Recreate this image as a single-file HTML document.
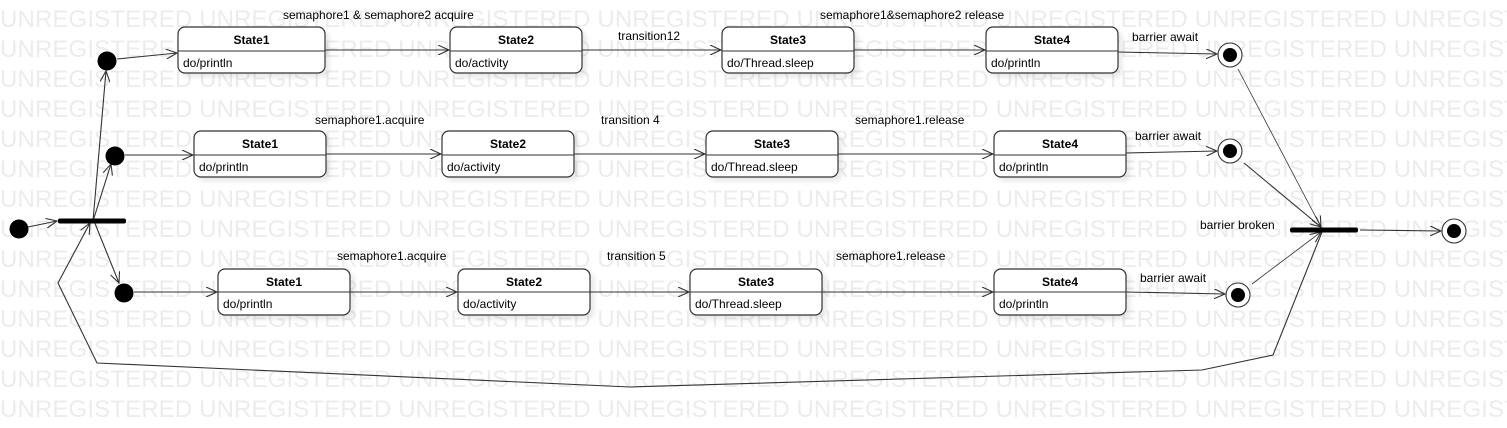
<!DOCTYPE html>
<html><head><meta charset="utf-8"><style>
html,body{margin:0;padding:0;background:#fff;}
svg{display:block;}
.wm{font-family:"Liberation Sans",sans-serif;font-size:24px;fill:#ececec;}
.t{font-family:"Liberation Sans",sans-serif;font-size:12px;fill:#000;}
.b{font-family:"Liberation Sans",sans-serif;font-size:12px;font-weight:bold;fill:#000;}
.st{fill:#fff;stroke:#333;stroke-width:1.2;}
.ln{stroke:#333;stroke-width:1.1;fill:none;}
</style></head><body>
<svg width="1507" height="428" viewBox="0 0 1507 428" xmlns="http://www.w3.org/2000/svg">
<defs>
<marker id="a" markerWidth="12" markerHeight="10" refX="11" refY="5" orient="auto" markerUnits="userSpaceOnUse">
<path d="M0,0 L11,5 L0,10" fill="none" stroke="#333" stroke-width="1.1"/></marker>
<filter id="sh" x="-10%" y="-10%" width="130%" height="140%"><feDropShadow dx="4" dy="4" stdDeviation="2" flood-color="#000" flood-opacity="0.08"/></filter>
</defs>
<g class="wm">
<text x="0" y="27" textLength="1586" lengthAdjust="spacing">UNREGISTERED UNREGISTERED UNREGISTERED UNREGISTERED UNREGISTERED UNREGISTERED UNREGISTERED UNREGISTERED</text>
<text x="0" y="57" textLength="1586" lengthAdjust="spacing">UNREGISTERED UNREGISTERED UNREGISTERED UNREGISTERED UNREGISTERED UNREGISTERED UNREGISTERED UNREGISTERED</text>
<text x="0" y="87" textLength="1586" lengthAdjust="spacing">UNREGISTERED UNREGISTERED UNREGISTERED UNREGISTERED UNREGISTERED UNREGISTERED UNREGISTERED UNREGISTERED</text>
<text x="0" y="117" textLength="1586" lengthAdjust="spacing">UNREGISTERED UNREGISTERED UNREGISTERED UNREGISTERED UNREGISTERED UNREGISTERED UNREGISTERED UNREGISTERED</text>
<text x="0" y="147" textLength="1586" lengthAdjust="spacing">UNREGISTERED UNREGISTERED UNREGISTERED UNREGISTERED UNREGISTERED UNREGISTERED UNREGISTERED UNREGISTERED</text>
<text x="0" y="177" textLength="1586" lengthAdjust="spacing">UNREGISTERED UNREGISTERED UNREGISTERED UNREGISTERED UNREGISTERED UNREGISTERED UNREGISTERED UNREGISTERED</text>
<text x="0" y="207" textLength="1586" lengthAdjust="spacing">UNREGISTERED UNREGISTERED UNREGISTERED UNREGISTERED UNREGISTERED UNREGISTERED UNREGISTERED UNREGISTERED</text>
<text x="0" y="237" textLength="1586" lengthAdjust="spacing">UNREGISTERED UNREGISTERED UNREGISTERED UNREGISTERED UNREGISTERED UNREGISTERED UNREGISTERED UNREGISTERED</text>
<text x="0" y="267" textLength="1586" lengthAdjust="spacing">UNREGISTERED UNREGISTERED UNREGISTERED UNREGISTERED UNREGISTERED UNREGISTERED UNREGISTERED UNREGISTERED</text>
<text x="0" y="297" textLength="1586" lengthAdjust="spacing">UNREGISTERED UNREGISTERED UNREGISTERED UNREGISTERED UNREGISTERED UNREGISTERED UNREGISTERED UNREGISTERED</text>
<text x="0" y="327" textLength="1586" lengthAdjust="spacing">UNREGISTERED UNREGISTERED UNREGISTERED UNREGISTERED UNREGISTERED UNREGISTERED UNREGISTERED UNREGISTERED</text>
<text x="0" y="357" textLength="1586" lengthAdjust="spacing">UNREGISTERED UNREGISTERED UNREGISTERED UNREGISTERED UNREGISTERED UNREGISTERED UNREGISTERED UNREGISTERED</text>
<text x="0" y="387" textLength="1586" lengthAdjust="spacing">UNREGISTERED UNREGISTERED UNREGISTERED UNREGISTERED UNREGISTERED UNREGISTERED UNREGISTERED UNREGISTERED</text>
<text x="0" y="417" textLength="1586" lengthAdjust="spacing">UNREGISTERED UNREGISTERED UNREGISTERED UNREGISTERED UNREGISTERED UNREGISTERED UNREGISTERED UNREGISTERED</text>
</g>

<g class="ln">
<line x1="28" y1="227" x2="57" y2="221" marker-end="url(#a)"/>
<line x1="93" y1="221" x2="106" y2="71" marker-end="url(#a)"/>
<line x1="93" y1="221" x2="111" y2="164" marker-end="url(#a)"/>
<line x1="94" y1="221" x2="119" y2="283" marker-end="url(#a)"/>
<line x1="117" y1="59" x2="177" y2="53" marker-end="url(#a)"/>
<line x1="125" y1="155" x2="193" y2="155" marker-end="url(#a)"/>
<line x1="134" y1="292" x2="217" y2="292" marker-end="url(#a)"/>
<line x1="325" y1="50" x2="449" y2="50" marker-end="url(#a)"/>
<line x1="582" y1="50" x2="721" y2="50" marker-end="url(#a)"/>
<line x1="854" y1="50" x2="985" y2="50" marker-end="url(#a)"/>
<line x1="1118" y1="52" x2="1217" y2="54" marker-end="url(#a)"/>
<line x1="326" y1="154" x2="441" y2="154" marker-end="url(#a)"/>
<line x1="574" y1="154" x2="705" y2="154" marker-end="url(#a)"/>
<line x1="838" y1="154" x2="993" y2="154" marker-end="url(#a)"/>
<line x1="1126" y1="153" x2="1217" y2="151" marker-end="url(#a)"/>
<line x1="350" y1="292" x2="457" y2="292" marker-end="url(#a)"/>
<line x1="590" y1="292" x2="689" y2="292" marker-end="url(#a)"/>
<line x1="822" y1="292" x2="993" y2="292" marker-end="url(#a)"/>
<line x1="1126" y1="292" x2="1225" y2="294" marker-end="url(#a)"/>
<line x1="1238" y1="69" x2="1321" y2="227" stroke-width="0.8" marker-end="url(#a)"/>
<line x1="1244" y1="163" x2="1321" y2="227" marker-end="url(#a)"/>
<line x1="1252" y1="284" x2="1321" y2="232" stroke-width="0.8" marker-end="url(#a)"/>
<line x1="1360" y1="230" x2="1441" y2="231" marker-end="url(#a)"/>
<polyline points="1322,232 1273,355 1202,370 630,387 97,363 58,283 90,223" marker-end="url(#a)"/>
</g>

<rect x="58" y="218.5" width="68" height="5" rx="2" fill="#000"/>
<rect x="1290" y="227.5" width="68" height="5" rx="2" fill="#000"/>

<g fill="#000">
<circle cx="19" cy="229" r="9.5"/>
<circle cx="107" cy="61" r="9.5"/>
<circle cx="115" cy="156" r="9.5"/>
<circle cx="124" cy="293" r="9.5"/>
</g>
<g>
<circle cx="1230" cy="55" r="12" fill="#fff" stroke="#333" stroke-width="1.1"/><circle cx="1230" cy="55" r="7" fill="#000"/>
<circle cx="1230" cy="151" r="12" fill="#fff" stroke="#333" stroke-width="1.1"/><circle cx="1230" cy="151" r="7" fill="#000"/>
<circle cx="1238" cy="295" r="12" fill="#fff" stroke="#333" stroke-width="1.1"/><circle cx="1238" cy="295" r="7" fill="#000"/>
<circle cx="1454" cy="231" r="12" fill="#fff" stroke="#333" stroke-width="1.1"/><circle cx="1454" cy="231" r="7" fill="#000"/>
</g>

<!-- Row 1 -->
<rect class="st" filter="url(#sh)" x="178" y="27" width="147" height="46" rx="7"/><line x1="178" y1="51" x2="325" y2="51" stroke="#333" stroke-width="1.1"/>
<text class="b" x="251.5" y="44" text-anchor="middle">State1</text><text class="t" x="183" y="67">do/println</text>
<rect class="st" filter="url(#sh)" x="450" y="27" width="132" height="46" rx="7"/><line x1="450" y1="51" x2="582" y2="51" stroke="#333" stroke-width="1.1"/>
<text class="b" x="516" y="44" text-anchor="middle">State2</text><text class="t" x="455" y="67">do/activity</text>
<rect class="st" filter="url(#sh)" x="722" y="27" width="132" height="46" rx="7"/><line x1="722" y1="51" x2="854" y2="51" stroke="#333" stroke-width="1.1"/>
<text class="b" x="788" y="44" text-anchor="middle">State3</text><text class="t" x="727" y="67">do/Thread.sleep</text>
<rect class="st" filter="url(#sh)" x="986" y="27" width="132" height="46" rx="7"/><line x1="986" y1="51" x2="1118" y2="51" stroke="#333" stroke-width="1.1"/>
<text class="b" x="1052" y="44" text-anchor="middle">State4</text><text class="t" x="991" y="67">do/println</text>
<!-- Row 2 -->
<rect class="st" filter="url(#sh)" x="194" y="131" width="132" height="46" rx="7"/><line x1="194" y1="155" x2="326" y2="155" stroke="#333" stroke-width="1.1"/>
<text class="b" x="260" y="148" text-anchor="middle">State1</text><text class="t" x="199" y="171">do/println</text>
<rect class="st" filter="url(#sh)" x="442" y="131" width="132" height="46" rx="7"/><line x1="442" y1="155" x2="574" y2="155" stroke="#333" stroke-width="1.1"/>
<text class="b" x="508" y="148" text-anchor="middle">State2</text><text class="t" x="447" y="171">do/activity</text>
<rect class="st" filter="url(#sh)" x="706" y="131" width="132" height="46" rx="7"/><line x1="706" y1="155" x2="838" y2="155" stroke="#333" stroke-width="1.1"/>
<text class="b" x="772" y="148" text-anchor="middle">State3</text><text class="t" x="711" y="171">do/Thread.sleep</text>
<rect class="st" filter="url(#sh)" x="994" y="131" width="132" height="46" rx="7"/><line x1="994" y1="155" x2="1126" y2="155" stroke="#333" stroke-width="1.1"/>
<text class="b" x="1060" y="148" text-anchor="middle">State4</text><text class="t" x="999" y="171">do/println</text>
<!-- Row 3 -->
<rect class="st" filter="url(#sh)" x="218" y="269" width="132" height="46" rx="7"/><line x1="218" y1="292" x2="350" y2="292" stroke="#333" stroke-width="1.1"/>
<text class="b" x="284" y="286" text-anchor="middle">State1</text><text class="t" x="223" y="308">do/println</text>
<rect class="st" filter="url(#sh)" x="458" y="269" width="132" height="46" rx="7"/><line x1="458" y1="292" x2="590" y2="292" stroke="#333" stroke-width="1.1"/>
<text class="b" x="524" y="286" text-anchor="middle">State2</text><text class="t" x="463" y="308">do/activity</text>
<rect class="st" filter="url(#sh)" x="690" y="269" width="132" height="46" rx="7"/><line x1="690" y1="292" x2="822" y2="292" stroke="#333" stroke-width="1.1"/>
<text class="b" x="756" y="286" text-anchor="middle">State3</text><text class="t" x="695" y="308">do/Thread.sleep</text>
<rect class="st" filter="url(#sh)" x="994" y="269" width="132" height="46" rx="7"/><line x1="994" y1="292" x2="1126" y2="292" stroke="#333" stroke-width="1.1"/>
<text class="b" x="1060" y="286" text-anchor="middle">State4</text><text class="t" x="999" y="308">do/println</text>

<text class="t" x="283" y="19">semaphore1 &amp; semaphore2 acquire</text>
<text class="t" x="618" y="40">transition12</text>
<text class="t" x="820" y="19">semaphore1&amp;semaphore2 release</text>
<text class="t" x="1132" y="41">barrier await</text>
<text class="t" x="315" y="124">semaphore1.acquire</text>
<text class="t" x="601" y="124">transition 4</text>
<text class="t" x="855" y="124">semaphore1.release</text>
<text class="t" x="1135" y="140">barrier await</text>
<text class="t" x="337" y="260">semaphore1.acquire</text>
<text class="t" x="607" y="260">transition 5</text>
<text class="t" x="836" y="260">semaphore1.release</text>
<text class="t" x="1140" y="282">barrier await</text>
<text class="t" x="1200" y="229">barrier broken</text>
</svg>
</body></html>
